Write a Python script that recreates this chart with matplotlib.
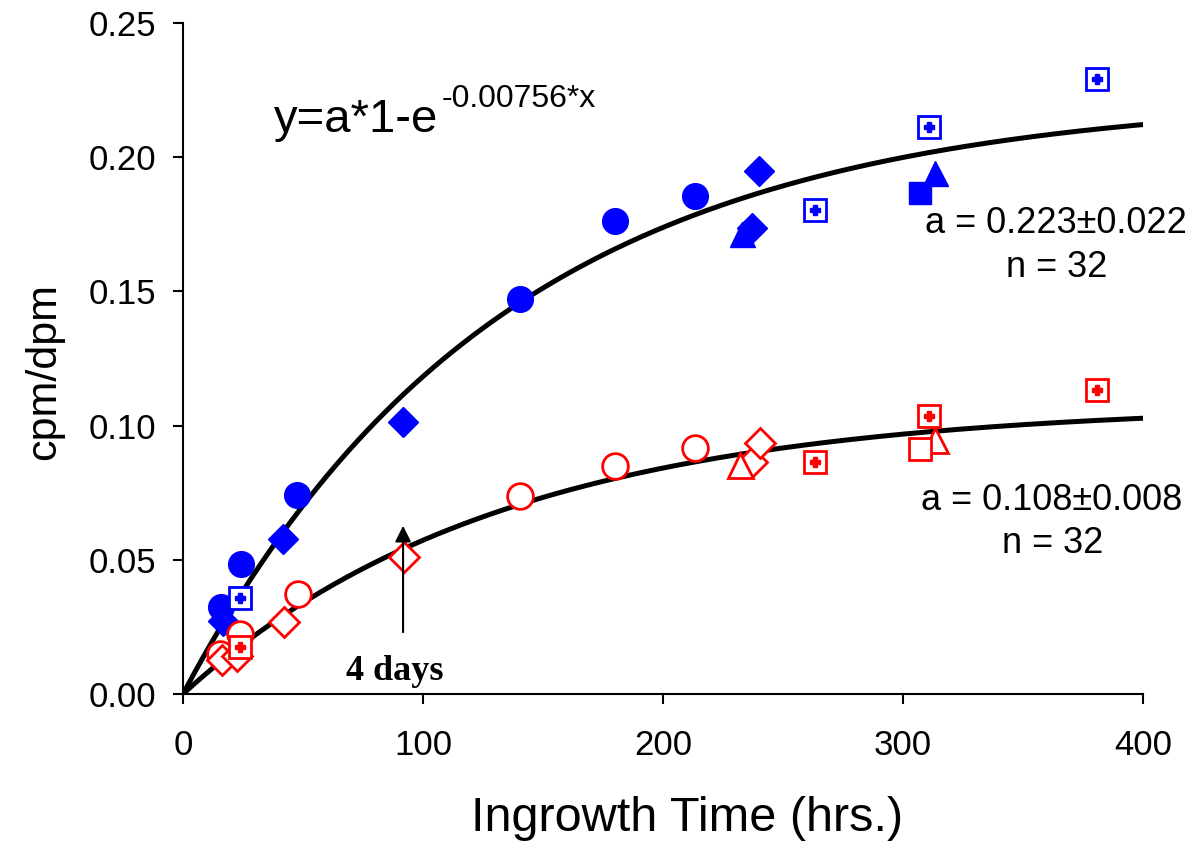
import numpy as np
import matplotlib
matplotlib.use("Agg")
import matplotlib.pyplot as plt

plt.rcParams['font.family'] = ['Liberation Sans', 'DejaVu Sans']

# upper series (blue, filled)
blue_circle_x = [15.8, 24.2, 47.5, 140.4, 180.0, 213.3]
blue_circle_y = [0.0324, 0.0484, 0.0741, 0.1472, 0.1762, 0.1855]
blue_diamond_x = [16.7, 41.7, 91.7, 237.0, 240.0]
blue_diamond_y = [0.0272, 0.0578, 0.1013, 0.1736, 0.1949]
blue_tri_x = [232.9, 313.3]
blue_tri_y = [0.1715, 0.1940]
blue_sq_x = [307.0]
blue_sq_y = [0.1866]
blue_sqplus_x = [23.75, 263.3, 310.8, 380.8]
blue_sqplus_y = [0.0358, 0.1805, 0.2113, 0.2290]

# lower series (red, open)
red_circle_x = [15.4, 23.75, 47.9, 140.4, 180.0, 213.3]
red_circle_y = [0.0150, 0.0222, 0.0373, 0.0738, 0.0850, 0.0917]
red_diamond_x = [16.25, 22.5, 42.1, 92.1, 237.0, 240.4]
red_diamond_y = [0.0125, 0.0140, 0.0268, 0.0510, 0.0864, 0.0935]
red_tri_x = [232.0, 313.3]
red_tri_y = [0.0853, 0.0946]
red_sq_x = [307.0]
red_sq_y = [0.0913]
red_sqplus_x = [23.75, 263.3, 310.8, 380.8]
red_sqplus_y = [0.0175, 0.0864, 0.1036, 0.1133]

# fitted curve y = a*(1-exp(-k*x))
k = 0.00756
a_blue = 0.223
a_red = 0.108

fig = plt.figure(figsize=(11.96, 8.46), dpi=100)
ax = fig.add_axes([183/1196, 1 - 694/846, 960/1196, 671/846])

xf = np.linspace(0, 400, 300)
ax.plot(xf, a_blue*(1-np.exp(-k*xf)), color='black', lw=3.6, zorder=2)
ax.plot(xf, a_red*(1-np.exp(-k*xf)), color='black', lw=3.6, zorder=2)

b = '#0000ff'
r = '#ff0000'
ax.plot(blue_circle_x, blue_circle_y, 'o', color=b, ms=18.5, ls='none', zorder=3)
ax.plot(blue_diamond_x, blue_diamond_y, 'D', color=b, ms=15, ls='none', zorder=3)
ax.plot(blue_tri_x, blue_tri_y, '^', color=b, ms=18, ls='none', zorder=3)
ax.plot(blue_sq_x, blue_sq_y, 's', color=b, ms=16.5, ls='none', zorder=3)
ax.plot(blue_sqplus_x, blue_sqplus_y, 's', mfc='white', mec=b, mew=2, ms=15.5, ls='none', zorder=3)
ax.plot(blue_sqplus_x, blue_sqplus_y, 'P', color=b, ms=7, ls='none', zorder=4)

ax.plot(red_circle_x, red_circle_y, 'o', mfc='white', mec=r, mew=2, ms=18.5, ls='none', zorder=3)
ax.plot(red_diamond_x, red_diamond_y, 'D', mfc='white', mec=r, mew=2, ms=15, ls='none', zorder=3)
ax.plot(red_tri_x, red_tri_y, '^', mfc='white', mec=r, mew=2, ms=18, ls='none', zorder=3)
ax.plot(red_sq_x, red_sq_y, 's', mfc='white', mec=r, mew=2, ms=16.5, ls='none', zorder=3)
ax.plot(red_sqplus_x, red_sqplus_y, 's', mfc='white', mec=r, mew=2, ms=15.5, ls='none', zorder=3)
ax.plot(red_sqplus_x, red_sqplus_y, 'P', color=r, ms=7, ls='none', zorder=4)

ax.set_xlim(0, 400)
ax.set_ylim(0, 0.25)
ax.set_xticks([0, 100, 200, 300, 400])
yt = np.arange(0, 0.2501, 0.05)
ax.set_yticks(yt)
ax.set_yticklabels(['%.2f' % v for v in yt])
ax.tick_params(labelsize=25, length=7, width=1.5, direction='out')
ax.tick_params(axis='x', pad=18)
ax.tick_params(axis='y', pad=12)
for s in ['top', 'right']:
    ax.spines[s].set_visible(False)
for s in ['left', 'bottom']:
    ax.spines[s].set_linewidth(1.5)

ax.set_xlabel('Ingrowth Time (hrs.)', fontsize=35, labelpad=25)
ax.xaxis.label.set_x(0.5255)
ax.set_ylabel('cpm/dpm', fontsize=31, labelpad=18)
ax.yaxis.label.set_y(0.48)

ax.text(38, 0.2094, 'y=a*1-e', fontsize=34, va='baseline')
ax.text(107.9, 0.2187, '-0.00756*x', fontsize=23, va='baseline')

ax.text(363.8, 0.1718, 'a = 0.223\u00b10.022', fontsize=26, ha='center', va='baseline')
ax.text(364.0, 0.1554, 'n = 32', fontsize=26, ha='center', va='baseline')
ax.text(362.0, 0.0686, 'a = 0.108\u00b10.008', fontsize=26, ha='center', va='baseline')
ax.text(362.5, 0.0525, 'n = 32', fontsize=26, ha='center', va='baseline')

ax.annotate('', xy=(91.7, 0.0637), xytext=(91.7, 0.022),
            arrowprops=dict(arrowstyle='-|>', color='black', lw=1.5, mutation_scale=24))
ax.text(88.3, 0.0052, '4 days', fontsize=26, fontweight='bold',
        family='Liberation Serif', ha='center', va='baseline')

fig.savefig('out.png', dpi=100)
